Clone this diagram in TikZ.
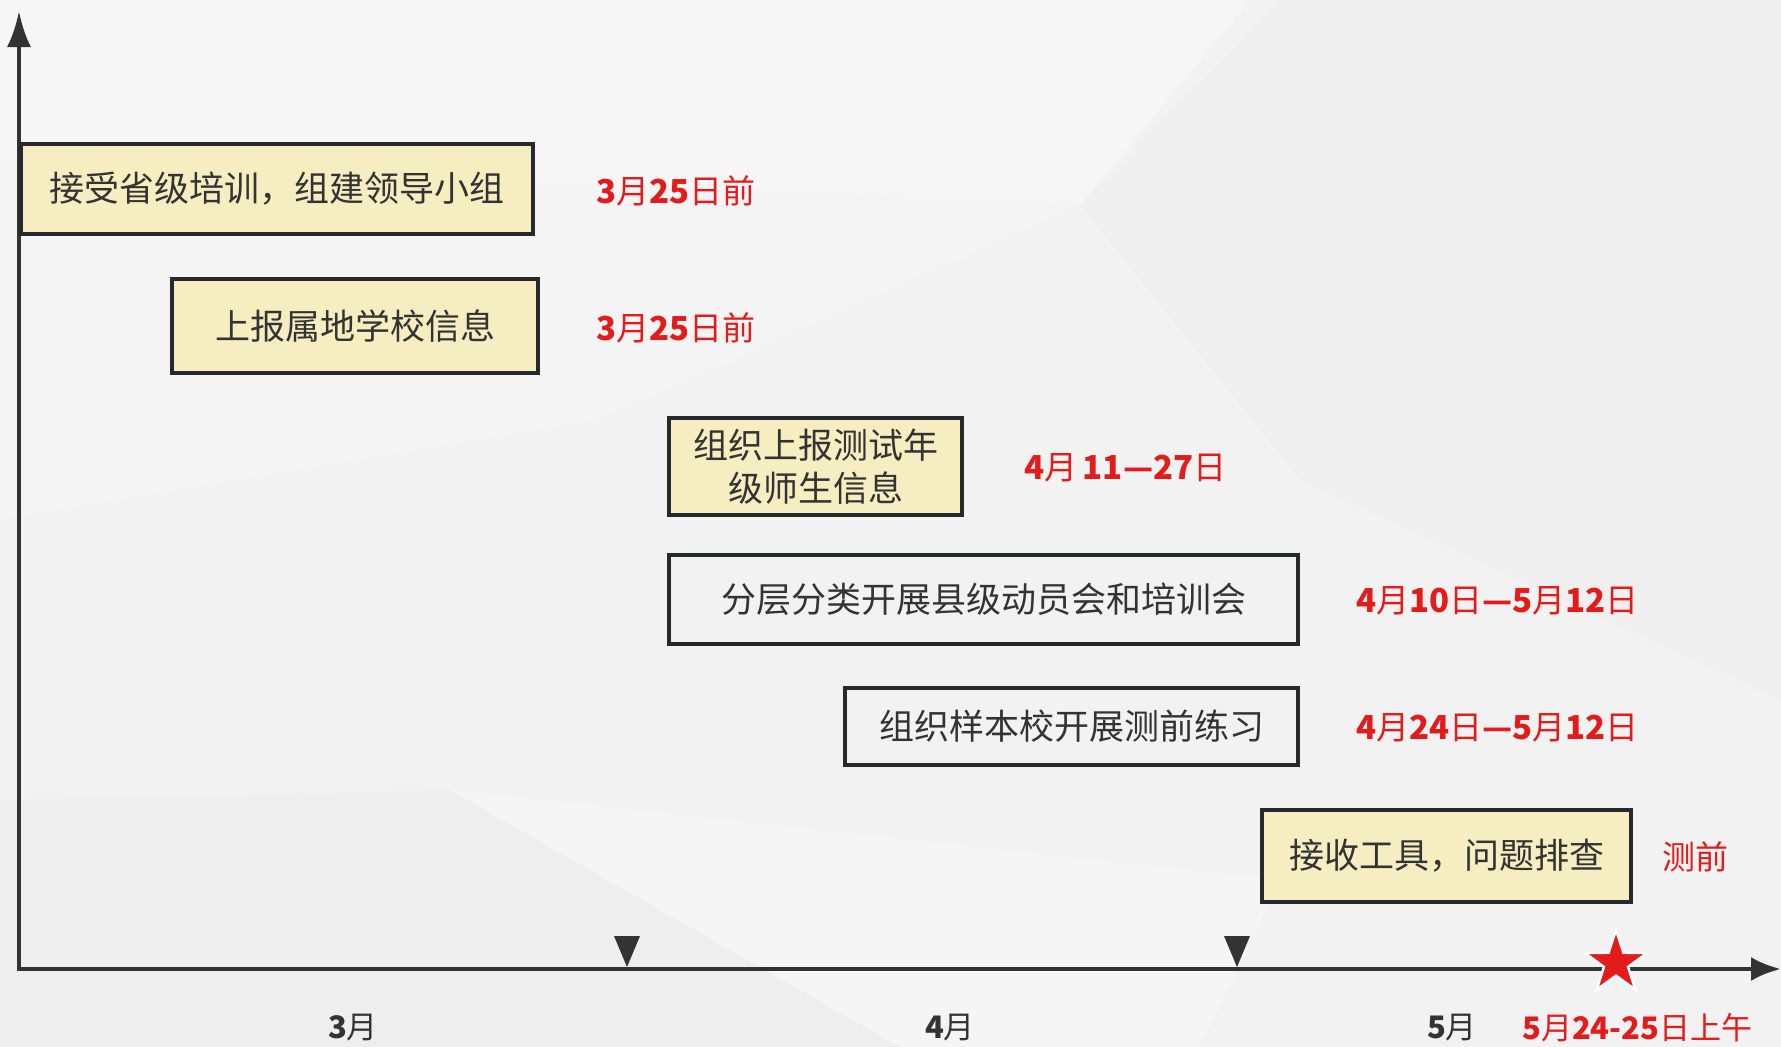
\documentclass[tikz,border=0pt]{standalone}
\usepackage{fontspec}
\setmainfont{Noto Sans CJK SC}
\usetikzlibrary{arrows.meta,shapes.geometric}
\definecolor{bg}{HTML}{F2F2F2}
\definecolor{ink}{HTML}{333333}
\definecolor{boxline}{HTML}{262A2E}
\definecolor{cream}{HTML}{F6EDC0}
\definecolor{lgray}{HTML}{F2F2F2}
\definecolor{myred}{HTML}{E41B1B}
\begin{document}
\begin{tikzpicture}[x=1pt,y=-1pt,
  task/.style={draw=boxline, line width=4.5pt, inner sep=0pt, text=ink,
    font=\fontsize{35pt}{43pt}\selectfont, align=center},
  yellowtask/.style={task, fill=cream},
  graytask/.style={task, fill=lgray},
  datelabel/.style={anchor=west, text=myred, inner sep=0pt,
    font=\fontsize{33pt}{40pt}\selectfont},
  monthlabel/.style={text=ink, inner sep=0pt, font=\fontsize{31pt}{37pt}\selectfont},
  axis/.style={draw=ink, line width=4.5pt, {Latex[length=36pt,width=24pt]}-{Latex[length=30pt,width=24pt]}}
]
\useasboundingbox (0,0) rectangle (1781,1047);
% background
\fill[bg] (0,0) rectangle (1781,1047);
\fill[white, opacity=0.35] (0,0) -- (1250,0) -- (1080,205) -- (0,160) -- cycle;
\fill[black, opacity=0.012] (1280,0) -- (1781,0) -- (1781,230) -- (1080,205) -- cycle;
\fill[black, opacity=0.01] (1080,205) -- (1781,230) -- (1781,700) -- (1300,480) -- cycle;
\fill[black, opacity=0.015] (0,800) -- (450,790) -- (900,1047) -- (0,1047) -- cycle;
\fill[white, opacity=0.25] (450,790) -- (1280,880) -- (1200,1047) -- (900,1047) -- cycle;
\fill[white, opacity=0.2] (0,160) -- (1080,205) -- (600,420) -- (0,520) -- cycle;

% axes
\coordinate (O) at (19,969);
\coordinate (Ytop) at (19,11);
\coordinate (Xend) at (1781,969);
\draw[axis] (Ytop) -- (O) -- (Xend);

% tick markers
\fill[ink] (614,936) -- (640,936) -- (627,967) -- cycle;
\fill[ink] (1224,936) -- (1250,936) -- (1237,967) -- cycle;

% star
\node[star, star points=5, star point ratio=2.6, minimum size=66pt, inner sep=0pt,
  fill=myred, draw=white, line width=2.5pt] (star) at (1616,963) {};

% task boxes
\node[yellowtask, minimum width=512pt, minimum height=90pt] (b1) at (277,189) {接受省级培训，组建领导小组};
\node[yellowtask, minimum width=366pt, minimum height=94pt] (b2) at (355,326) {上报属地学校信息};
\node[yellowtask, minimum width=293pt, minimum height=97pt] (b3) at (815.5,466.5) {组织上报测试年\\级师生信息};
\node[graytask, minimum width=629pt, minimum height=89pt] (b4) at (983.5,599.5) {分层分类开展县级动员会和培训会};
\node[graytask, minimum width=453pt, minimum height=77pt] (b5) at (1071.5,726.5) {组织样本校开展测前练习};
\node[yellowtask, minimum width=369pt, minimum height=92pt] (b6) at (1446.5,856) {接收工具，问题排查};

% date labels
\node[datelabel] (d1) at (596,191) {\textbf{3}月\textbf{25}日前};
\node[datelabel] (d2) at (596,328) {\textbf{3}月\textbf{25}日前};
\node[datelabel] (d3) at (1024,468) {\textbf{4}月\,\textbf{11—27}日};
\node[datelabel] (d4) at (1356,601) {\textbf{4}月\textbf{10}日\textbf{—5}月\textbf{12}日};
\node[datelabel] (d5) at (1356,728) {\textbf{4}月\textbf{24}日\textbf{—5}月\textbf{12}日};
\node[datelabel] (d6) at (1662,857) {测前};

% month labels
\node[monthlabel] (m3) at (353,1028) {\textbf{3}月};
\node[monthlabel] (m4) at (950,1028) {\textbf{4}月};
\node[monthlabel] (m5) at (1452,1028) {\textbf{5}月};
\node[monthlabel, anchor=west, text=myred] (test) at (1522,1028) {\textbf{5}月\textbf{24-25}日上午};
\end{tikzpicture}
\end{document}
